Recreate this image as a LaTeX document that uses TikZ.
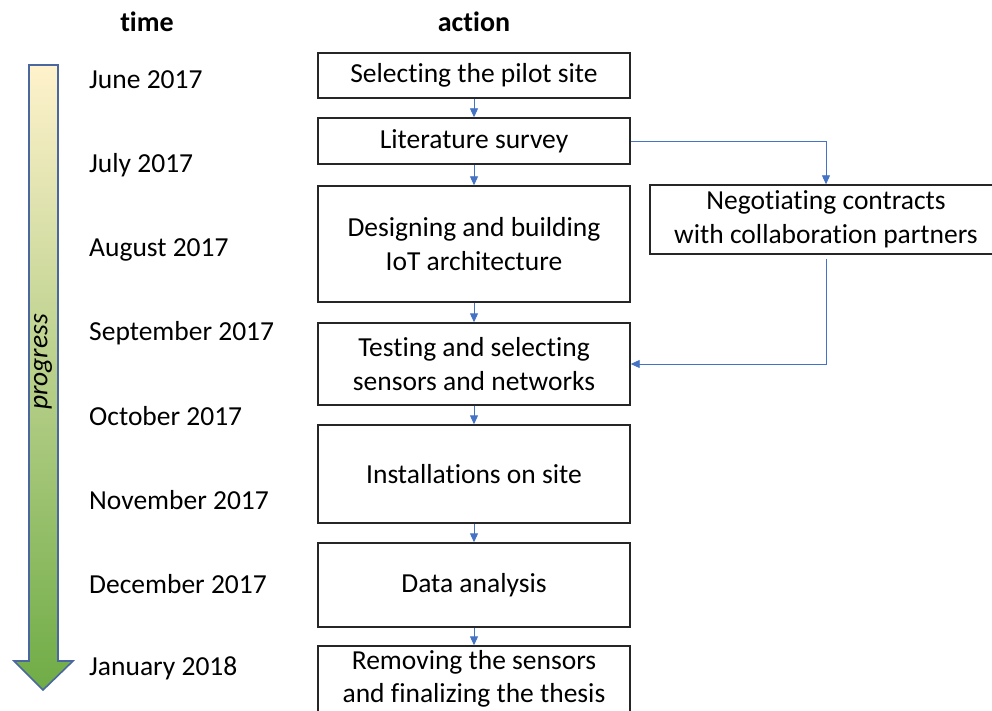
\documentclass[tikz,border=0pt]{standalone}
\usepackage{fontspec}
\setmainfont{Carlito}[Ligatures={NoCommon,NoRequired,NoContextual}]
\usetikzlibrary{arrows.meta}
\definecolor{conn}{HTML}{4472C4}
\definecolor{arrowedge}{HTML}{4A67A0}
\definecolor{topyel}{HTML}{FFF2CC}
\definecolor{botgrn}{HTML}{6FAC46}
\tikzset{
  actbox/.style={draw=black!85, line width=1.4pt, minimum width=312pt, inner sep=0pt, align=center, font=\fontsize{27.5}{33.5}\selectfont},
  datelbl/.style={anchor=west, inner sep=0pt, font=\fontsize{27.5}{33}\selectfont},
  hdr/.style={inner sep=0pt, font=\bfseries\fontsize{28}{33}\selectfont},
  conarrow/.style={draw=conn, line width=0.9pt, -{Triangle[length=9pt,width=8pt]}}
}
\begin{document}
\begin{tikzpicture}[x=1pt,y=-1pt]
\useasboundingbox (0,0) rectangle (992,711);
% progress arrow
\shade[top color=topyel, bottom color=botgrn, draw=arrowedge, line width=1.6pt, line join=miter]
  (29,65) -- (58,65) -- (58,661) -- (73,661) -- (43,690) -- (14,661) -- (29,661) -- cycle;
\node[rotate=90, font=\itshape\fontsize{27.5}{33}\selectfont, inner sep=0pt] (prog) at (43,362) {progress};
% headers
\node[hdr] (htime) at (147,22) {time};
\node[hdr] (haction) at (474,22) {action};
% dates
\node[datelbl] (d1) at (89,80) {June 2017};
\node[datelbl] (d2) at (89,165) {July 2017};
\node[datelbl] (d3) at (89,250) {August 2017};
\node[datelbl] (d4) at (89,333) {September 2017};
\node[datelbl] (d5) at (89,416) {October 2017};
\node[datelbl] (d6) at (89,500) {November 2017};
\node[datelbl] (d7) at (89,584) {December 2017};
\node[datelbl] (d8) at (89,668) {January 2018};
% action boxes
\node[actbox, minimum height=45pt] (b1) at (474,75.5) {Selecting the pilot site};
\node[actbox, minimum height=46pt] (b2) at (474,141) {Literature survey};
\node[actbox, minimum height=116pt] (b3) at (474,244) {Designing and building\\IoT architecture};
\node[actbox, minimum height=82pt] (b4) at (474,364) {Testing and selecting\\sensors and networks};
\node[actbox, minimum height=98pt] (b5) at (474,474) {Installations on site};
\node[actbox, minimum height=84pt] (b6) at (474,585) {Data analysis};
\node[actbox, minimum height=66pt] (b7) at (474,679) {Removing the sensors\\and finalizing the thesis};
\node[actbox, minimum width=352pt, minimum height=69pt] (neg) at (826,219.5) {Negotiating contracts\\with collaboration partners};
% connectors
\draw[conarrow] (b1.south) -- (b2.north);
\draw[conarrow] (b2.south) -- (b3.north);
\draw[conarrow] (b3.south) -- (b4.north);
\draw[conarrow] (b4.south) -- (b5.north);
\draw[conarrow] (b5.south) -- (b6.north);
\draw[conarrow] (b6.south) -- (b7.north);
\draw[conarrow] (b2.east) -| (neg.north);
\draw[conarrow] ([yshift=-4pt]neg.south) |- (b4.east);
\end{tikzpicture}
\end{document}
